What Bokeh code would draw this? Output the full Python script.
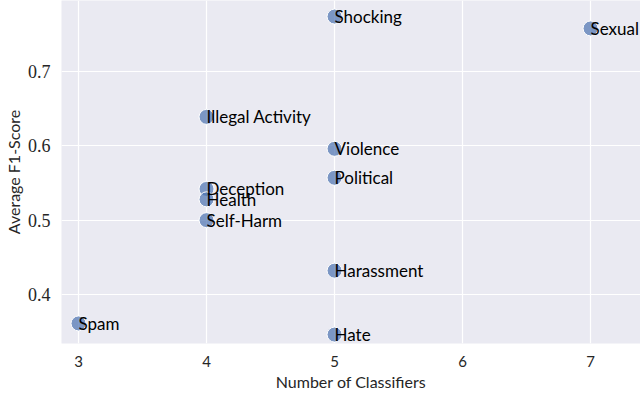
from bokeh.plotting import figure
from bokeh.models import ColumnDataSource, LabelSet, FixedTicker, Range1d
from bokeh.core.properties import value
from bokeh.embed import file_html
from bokeh.resources import INLINE

categories = ["Shocking", "Sexual", "Illegal Activity", "Violence", "Political",
              "Deception", "Health", "Self-Harm", "Harassment", "Spam", "Hate"]
num_classifiers = [5, 7, 4, 5, 5, 4, 4, 4, 5, 3, 5]
avg_f1 = [0.774, 0.758, 0.639, 0.596, 0.557, 0.542, 0.528, 0.500, 0.432, 0.361, 0.346]
x_ticks = [3, 4, 5, 6, 7]
y_ticks = [0.4, 0.5, 0.6, 0.7]

src = ColumnDataSource(dict(x=num_classifiers, y=avg_f1, name=categories))

p = figure(width=640, height=393, output_backend="svg", toolbar_location=None,
           x_range=Range1d(2.867, 7.39), y_range=Range1d(0.334, 0.7956),
           min_border_left=0, min_border_right=0, min_border_top=0, min_border_bottom=0)
p.background_fill_color = "#EAEAF2"
p.outline_line_color = None
p.border_fill_color = "white"

p.xgrid.grid_line_color = "white"
p.ygrid.grid_line_color = "white"
p.xgrid.grid_line_width = 1.2
p.ygrid.grid_line_width = 1.2

p.xaxis.ticker = FixedTicker(ticks=x_ticks)
p.yaxis.ticker = FixedTicker(ticks=y_ticks)
for ax in (p.xaxis, p.yaxis):
    ax.axis_line_color = None
    ax.major_tick_line_color = None
    ax.minor_tick_line_color = None
    ax.major_label_text_color = "#262626"
    ax.axis_label_text_color = "#262626"
    ax.axis_label_text_font_style = "normal"

p.xaxis.axis_label = "Number of Classifiers"
p.yaxis.axis_label = "Average F1-Score"
p.xaxis.major_label_text_font = "Lato"
p.xaxis.major_label_text_font_size = "15px"
p.yaxis.major_label_text_font = "Liberation Serif"
p.yaxis.major_label_text_font_size = "18px"
p.xaxis.axis_label_text_font = "Lato"
p.yaxis.axis_label_text_font = "Lato"
p.xaxis.axis_label_text_font_size = "16px"
p.yaxis.axis_label_text_font_size = "16px"
p.xaxis.major_label_standoff = 6
p.yaxis.major_label_standoff = 5
p.xaxis.axis_label_standoff = 2
p.yaxis.axis_label_standoff = 2

p.scatter("x", "y", source=src, size=15, fill_color="#4C72B0", fill_alpha=0.7,
          line_color="white", line_width=1)

labels = LabelSet(x="x", y="y", text="name", source=src, text_align="left",
                  text_baseline="middle", text_font=value("Lato"), text_font_size=value("17px"),
                  text_color="black", x_offset=0)
p.add_layout(labels)

open("out.html", "w").write(file_html(p, INLINE))
